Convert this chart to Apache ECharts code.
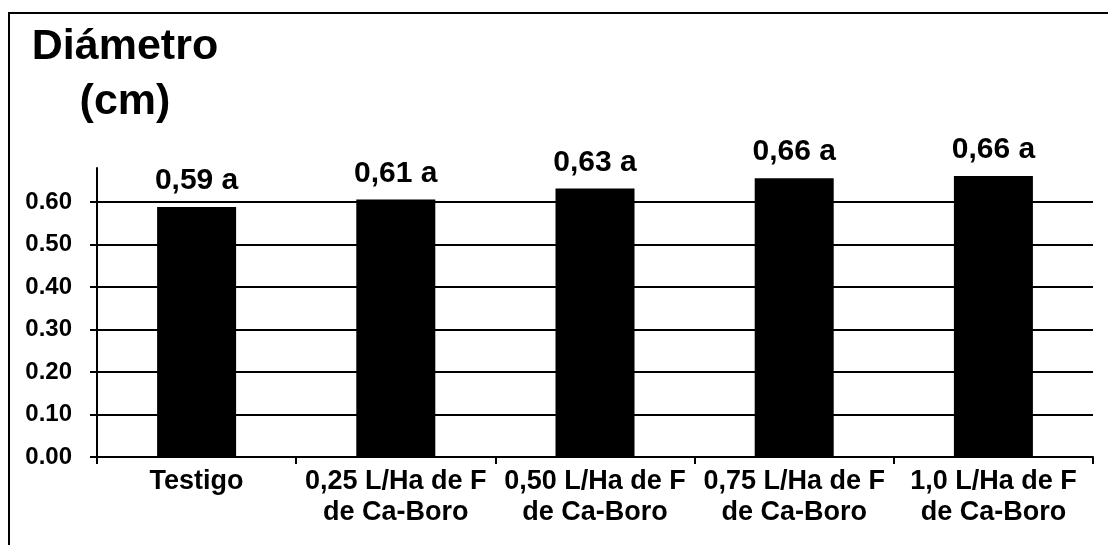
<!DOCTYPE html>
<html>
<head>
<meta charset="utf-8">
<script src="https://cdn.jsdelivr.net/npm/echarts@6/dist/echarts.min.js"></script>
<style>
  html, body { margin: 0; padding: 0; background: #fff; }
  #chart { width: 1108px; height: 545px; }
</style>
</head>
<body>
<div id="chart"></div>
<script>
// datos
var categorias = [
    'Testigo',
    '0,25 L/Ha de F\nde Ca-Boro',
    '0,50 L/Ha de F\nde Ca-Boro',
    '0,75 L/Ha de F\nde Ca-Boro',
    '1,0 L/Ha de F\nde Ca-Boro'
];
var diametro = [0.588, 0.606, 0.632, 0.656, 0.661];
var etiquetas = ['0,59 a', '0,61 a', '0,63 a', '0,66 a', '0,66 a'];
var marcasY = [0, 0.1, 0.2, 0.3, 0.4, 0.5, 0.6];

var fuente = 'Arial, "Liberation Sans", sans-serif';

var chart = echarts.init(document.getElementById('chart'));

var option = {
    backgroundColor: '#fff',
    animation: false,
    title: {
        text: 'Diámetro\n(cm)',
        left: 120,
        top: 15,
        textAlign: 'center',
        textStyle: {
            fontFamily: fuente,
            fontSize: 43,
            fontWeight: 'bold',
            color: '#000',
            lineHeight: 55
        }
    },
    graphic: [{
        type: 'rect',
        shape: { x: 9, y: 13, width: 1200, height: 600 },
        style: { fill: 'none', stroke: '#000', lineWidth: 2 },
        silent: true
    }],
    grid: {
        left: 97,
        right: 15,
        top: 168,
        bottom: 88
    },
    xAxis: {
        type: 'category',
        data: categorias,
        axisLine: { lineStyle: { color: '#000', width: 2 } },
        axisTick: { show: true, length: 7, lineStyle: { color: '#000', width: 2 } },
        axisLabel: {
            interval: 0,
            margin: 9,
            color: '#000',
            fontFamily: fuente,
            fontSize: 27,
            fontWeight: 'bold',
            lineHeight: 31
        }
    },
    yAxis: {
        type: 'value',
        min: 0,
        max: 0.68,
        interval: 0.1,
        axisLine: { show: true, lineStyle: { color: '#000', width: 2 } },
        axisTick: {
            show: true,
            length: 7,
            customValues: marcasY,
            lineStyle: { color: '#000', width: 2 }
        },
        splitLine: { show: true, lineStyle: { color: '#000', width: 2 } },
        axisLabel: {
            customValues: marcasY,
            margin: 25,
            color: '#000',
            fontFamily: fuente,
            fontSize: 24,
            fontWeight: 'bold',
            formatter: function (v) { return v.toFixed(2); }
        }
    },
    series: [{
        type: 'bar',
        data: diametro,
        barWidth: 79,
        itemStyle: { color: '#000' },
        label: {
            show: true,
            position: 'top',
            distance: 11,
            color: '#000',
            fontFamily: fuente,
            fontSize: 30,
            fontWeight: 'bold',
            formatter: function (p) { return etiquetas[p.dataIndex]; }
        }
    }]
};

chart.setOption(option);
</script>
</body>
</html>
